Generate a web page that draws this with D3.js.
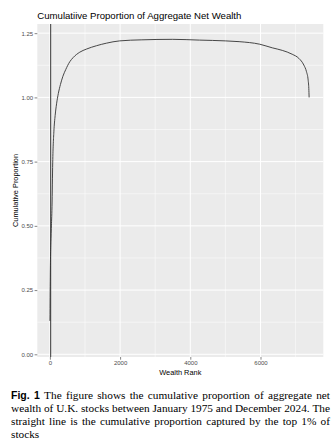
<!DOCTYPE html>
<html>
<head>
<meta charset="utf-8">
<script src="https://cdn.jsdelivr.net/npm/d3@7"></script>
<style>
  body { margin: 0; background: #fff; }
  svg { display: block; }
</style>
</head>
<body>
<script>
var width = 336;
var height = 445;

// wealth rank vs cumulative proportion
var ranks  = [1, 5, 10, 20, 30, 40, 60, 80, 113, 150, 190, 240, 300, 370, 450, 567, 662, 851, 1040, 1324, 1608, 1986, 2600, 3500, 4261, 5000, 5390, 5977, 6335, 6620, 6903, 7092, 7234, 7310, 7357, 7376, 7385];
var values = [0.13, 0.22, 0.30, 0.40, 0.45, 0.49, 0.575, 0.745, 0.866, 0.93, 0.975, 1.015, 1.05, 1.082, 1.108, 1.139, 1.155, 1.176, 1.188, 1.201, 1.211, 1.22, 1.224, 1.226, 1.223, 1.22, 1.217, 1.207, 1.193, 1.183, 1.168, 1.152, 1.126, 1.10, 1.068, 1.035, 1.0];
var vlineRank = 22; // top 1% marker

var xTicks = [0, 2000, 4000, 6000];
var xMinor = [1000, 3000, 5000, 7000];
var yTicks = [0, 0.25, 0.5, 0.75, 1.0, 1.25];
var yMinor = [0.125, 0.375, 0.625, 0.875, 1.125];

var captionLines = [
  [{t: "Fig. 1", bold: true}, {t: "The figure shows the cumulative proportion of aggregate net"}],
  [{t: "wealth of U.K. stocks between January 1975 and December 2024. The"}],
  [{t: "straight line is the cumulative proportion captured by the top 1% of"}],
  [{t: "stocks"}]
];

var panel = {left: 37.3, right: 323.3, top: 24, bottom: 357};

var x = d3.scaleLinear().domain([-359, 7789]).range([panel.left, panel.right]);
var y = d3.scaleLinear().domain([-0.0105, 1.2857]).range([panel.bottom, panel.top]);

var svg = d3.select("body").append("svg")
    .attr("width", width)
    .attr("height", height);

// panel background
svg.append("rect")
  .attr("x", panel.left).attr("y", panel.top)
  .attr("width", panel.right - panel.left)
  .attr("height", panel.bottom - panel.top)
  .attr("fill", "#EBEBEB");

// grid
var grid = svg.append("g");
grid.selectAll(".ym").data(yMinor).enter().append("line")
  .attr("x1", panel.left).attr("x2", panel.right)
  .attr("y1", function(d){ return y(d); }).attr("y2", function(d){ return y(d); })
  .attr("stroke", "#fff").attr("stroke-width", 0.5);
grid.selectAll(".xm").data(xMinor).enter().append("line")
  .attr("y1", panel.top).attr("y2", panel.bottom)
  .attr("x1", function(d){ return x(d); }).attr("x2", function(d){ return x(d); })
  .attr("stroke", "#fff").attr("stroke-width", 0.5);
grid.selectAll(".yM").data(yTicks).enter().append("line")
  .attr("x1", panel.left).attr("x2", panel.right)
  .attr("y1", function(d){ return y(d); }).attr("y2", function(d){ return y(d); })
  .attr("stroke", "#fff").attr("stroke-width", 1);
grid.selectAll(".xM").data(xTicks).enter().append("line")
  .attr("y1", panel.top).attr("y2", panel.bottom)
  .attr("x1", function(d){ return x(d); }).attr("x2", function(d){ return x(d); })
  .attr("stroke", "#fff").attr("stroke-width", 1);

// vertical line (top 1%)
svg.append("line")
  .attr("x1", x(vlineRank)).attr("x2", x(vlineRank))
  .attr("y1", panel.top).attr("y2", panel.bottom)
  .attr("stroke", "#222").attr("stroke-width", 0.9);

// curve
var pts = ranks.map(function(r, i){ return [r, values[i]]; });
svg.append("path")
  .datum(pts)
  .attr("fill", "none")
  .attr("stroke", "#333")
  .attr("stroke-width", 0.9)
  .attr("d", d3.line()
    .x(function(d){ return x(d[0]); })
    .y(function(d){ return y(d[1]); })
    .curve(d3.curveMonotoneX));

// axes
var xAxis = svg.append("g")
  .attr("transform", "translate(0," + panel.bottom + ")")
  .call(d3.axisBottom(x).tickValues(xTicks).tickFormat(d3.format("d")).tickSize(2.7).tickPadding(1.5));
var yAxis = svg.append("g")
  .attr("transform", "translate(" + panel.left + ",0)")
  .call(d3.axisLeft(y).tickValues(yTicks).tickFormat(d3.format(".2f")).tickSize(2.7).tickPadding(1.5));
[xAxis, yAxis].forEach(function(a){
  a.select(".domain").remove();
  a.selectAll(".tick line").attr("stroke", "#333").attr("stroke-width", 0.6);
  a.selectAll(".tick text")
    .attr("fill", "#4D4D4D")
    .style("font-family", "Liberation Sans, Arial, sans-serif")
    .style("font-size", "6px");
});

// titles
svg.append("text")
  .attr("x", panel.left).attr("y", 18.5)
  .style("font-family", "Liberation Sans, Arial, sans-serif")
  .style("font-size", "9.6px")
  .text("Cumulatiive Proportion of Aggregate Net Wealth");

svg.append("text")
  .attr("x", (panel.left + panel.right) / 2).attr("y", 374.5)
  .attr("text-anchor", "middle")
  .style("font-family", "Liberation Sans, Arial, sans-serif")
  .style("font-size", "7.4px")
  .text("Wealth Rank");

svg.append("text")
  .attr("transform", "translate(17.5," + ((panel.top + panel.bottom) / 2) + ") rotate(-90)")
  .attr("text-anchor", "middle")
  .style("font-family", "Liberation Sans, Arial, sans-serif")
  .style("font-size", "7.4px")
  .text("Cumulative Proportion");

// caption, justified by placing words
var capLeft = 11, capRight = 330, capTop = 399, capStep = 12.9;
var capSize = 11.3;
var cap = svg.append("g");
captionLines.forEach(function(line, li){
  var words = [];
  line.forEach(function(seg){
    seg.t.split(" ").forEach(function(w){ words.push({t: w, bold: !!seg.bold}); });
  });
  var t = cap.append("text").attr("y", capTop + li * capStep).style("font-size", capSize + "px");
  var spans = t.selectAll("tspan").data(words).enter().append("tspan")
    .style("font-family", function(d){ return d.bold ? "Liberation Sans, Arial, sans-serif" : "Liberation Serif, Times New Roman, serif"; })
    .style("font-weight", function(d){ return d.bold ? "bold" : "normal"; })
    .style("font-size", function(d){ return d.bold ? (capSize * 0.93) + "px" : capSize + "px"; })
    .text(function(d){ return d.t; });
  var widths = [];
  spans.each(function(){ widths.push(this.getComputedTextLength()); });
  var total = d3.sum(widths);
  var gap = li < captionLines.length - 1 ? (capRight - capLeft - total) / (words.length - 1) : capSize * 0.25;
  var cx = capLeft;
  spans.attr("x", function(d, i){ var v = cx; cx += widths[i] + gap; return v; });
});
</script>
</body>
</html>
